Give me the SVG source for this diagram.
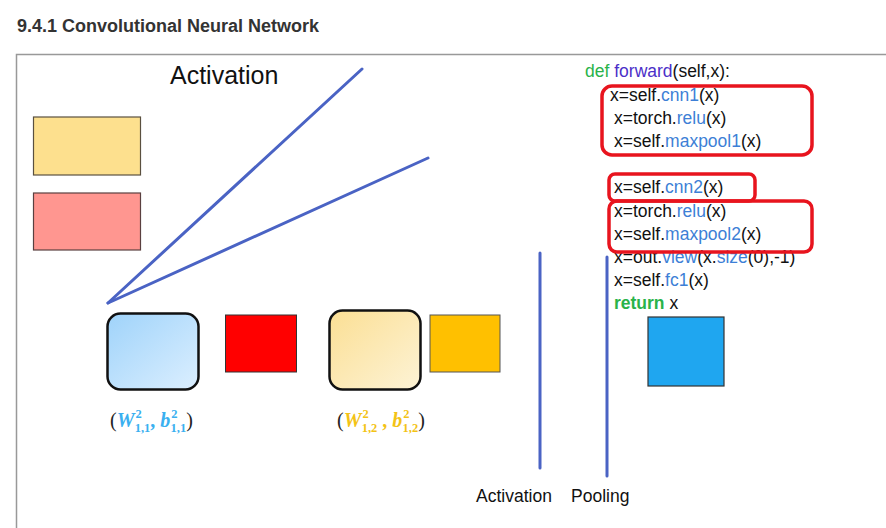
<svg xmlns="http://www.w3.org/2000/svg" width="886" height="528" viewBox="0 0 886 528">
<defs>
<style>
.code{font-family:"Liberation Sans",Arial,sans-serif;font-size:17.5px;fill:#111}
.kw{fill:#2ab34a}
.fn{fill:#3d7fd6}
.ln{stroke:#4a63c4;stroke-width:3;fill:none;stroke-linecap:round}
.hl{fill:none;stroke:#e8141e;stroke-width:3.5}
.lbl{font-family:"Liberation Sans",Arial,sans-serif;fill:#111}
.m{font-family:"Liberation Serif","Times New Roman",serif;font-weight:bold;font-size:20px}
.mi{font-style:italic}
.s{font-size:12.5px}
</style>
<linearGradient id="gBlue" x1="0" y1="0" x2="1" y2="1">
<stop offset="0" stop-color="#9fd3fa"/>
<stop offset="1" stop-color="#dcefff"/>
</linearGradient>
<linearGradient id="gYel" x1="0" y1="0" x2="1" y2="1">
<stop offset="0" stop-color="#fbdf94"/>
<stop offset="1" stop-color="#fdf3d6"/>
</linearGradient>
</defs>
<rect width="886" height="528" fill="#fff"/>
<text x="17" y="32" font-family="'Liberation Sans',Arial,sans-serif" font-weight="bold" font-size="18" fill="#333">9.4.1 Convolutional Neural Network</text>
<path d="M16.5 528 V54.5 H886" fill="none" stroke="#999" stroke-width="1.5"/>

<text class="lbl" x="170" y="84" font-size="25">Activation</text>

<g id="connectors">
<line class="ln" x1="108" y1="303" x2="362" y2="69"/>
<line class="ln" x1="108" y1="303" x2="428" y2="158"/>
<line class="ln" x1="540" y1="253" x2="540" y2="468"/>
<line class="ln" x1="607" y1="257" x2="607" y2="476"/>
</g>

<g id="legend-yellow"><rect x="33.5" y="117" width="107" height="58" fill="#fde08e" stroke="#5a5040" stroke-width="1.2"/></g>
<g id="legend-pink"><rect x="33.5" y="193" width="107" height="57" fill="#ff9690" stroke="#5a4040" stroke-width="1.2"/></g>

<g id="kernel1">
<rect x="107.5" y="313.5" width="91" height="76" rx="13" fill="url(#gBlue)" stroke="#111" stroke-width="2.5"/>
<text x="110" y="427" class="m" fill="#3ab0f0"><tspan fill="#222" font-weight="normal">(</tspan><tspan class="mi">W</tspan><tspan class="s" dx="1" dy="-9">2</tspan><tspan class="s" dx="-7" dy="14">1,1</tspan><tspan dy="-5">, </tspan><tspan class="mi">b</tspan><tspan class="s" dx="1" dy="-9">2</tspan><tspan class="s" dx="-7" dy="14">1,1</tspan><tspan fill="#222" font-weight="normal" dy="-5">)</tspan></text>
</g>
<g id="act1"><rect x="225.5" y="315" width="71" height="57" fill="#ff0000" stroke="#333" stroke-width="1"/></g>

<g id="kernel2">
<rect x="329.5" y="310.5" width="91" height="79" rx="13" fill="url(#gYel)" stroke="#111" stroke-width="2.5"/>
<text x="337" y="427" class="m" fill="#f3c316"><tspan fill="#222" font-weight="normal">(</tspan><tspan class="mi">W</tspan><tspan class="s" dx="1" dy="-9">2</tspan><tspan class="s" dx="-7" dy="14">1,2</tspan><tspan dy="-5"> , </tspan><tspan class="mi">b</tspan><tspan class="s" dx="1" dy="-9">2</tspan><tspan class="s" dx="-7" dy="14">1,2</tspan><tspan fill="#222" font-weight="normal" dy="-5">)</tspan></text>
</g>
<g id="act2"><rect x="430" y="315" width="70" height="57" fill="#ffc000" stroke="#555" stroke-width="1"/></g>

<g id="out"><rect x="648" y="317" width="76" height="69" fill="#1fa6f0" stroke="#333" stroke-width="1.2"/></g>

<g id="code">
<text class="code" x="585" y="77"><tspan class="kw">def </tspan><tspan fill="#4b2fc8">forward</tspan>(self,x):</text>
<text class="code" x="610" y="101">x=self.<tspan class="fn">cnn1</tspan>(x)</text>
<text class="code" x="614" y="124">x=torch.<tspan class="fn">relu</tspan>(x)</text>
<text class="code" x="614" y="147">x=self.<tspan class="fn">maxpool1</tspan>(x)</text>
<text class="code" x="614" y="193">x=self.<tspan class="fn">cnn2</tspan>(x)</text>
<text class="code" x="614" y="217">x=torch.<tspan class="fn">relu</tspan>(x)</text>
<text class="code" x="614" y="240">x=self.<tspan class="fn">maxpool2</tspan>(x)</text>
<text class="code" x="614" y="263">x=out.<tspan class="fn">view</tspan>(x.<tspan class="fn">size</tspan>(0),-1)</text>
<text class="code" x="614" y="286">x=self.<tspan class="fn">fc1</tspan>(x)</text>
<text class="code" x="614" y="309"><tspan class="kw" font-weight="bold">return</tspan> x</text>
</g>
<g id="highlights">
<rect class="hl" x="602" y="86" width="210" height="69" rx="10"/>
<rect class="hl" x="609" y="174" width="146" height="27" rx="6"/>
<rect class="hl" x="609" y="201" width="203" height="51" rx="8"/>
</g>

<text class="lbl" x="476" y="502" font-size="17.5">Activation</text>
<text class="lbl" x="571" y="502" font-size="17.5">Pooling</text>
</svg>
